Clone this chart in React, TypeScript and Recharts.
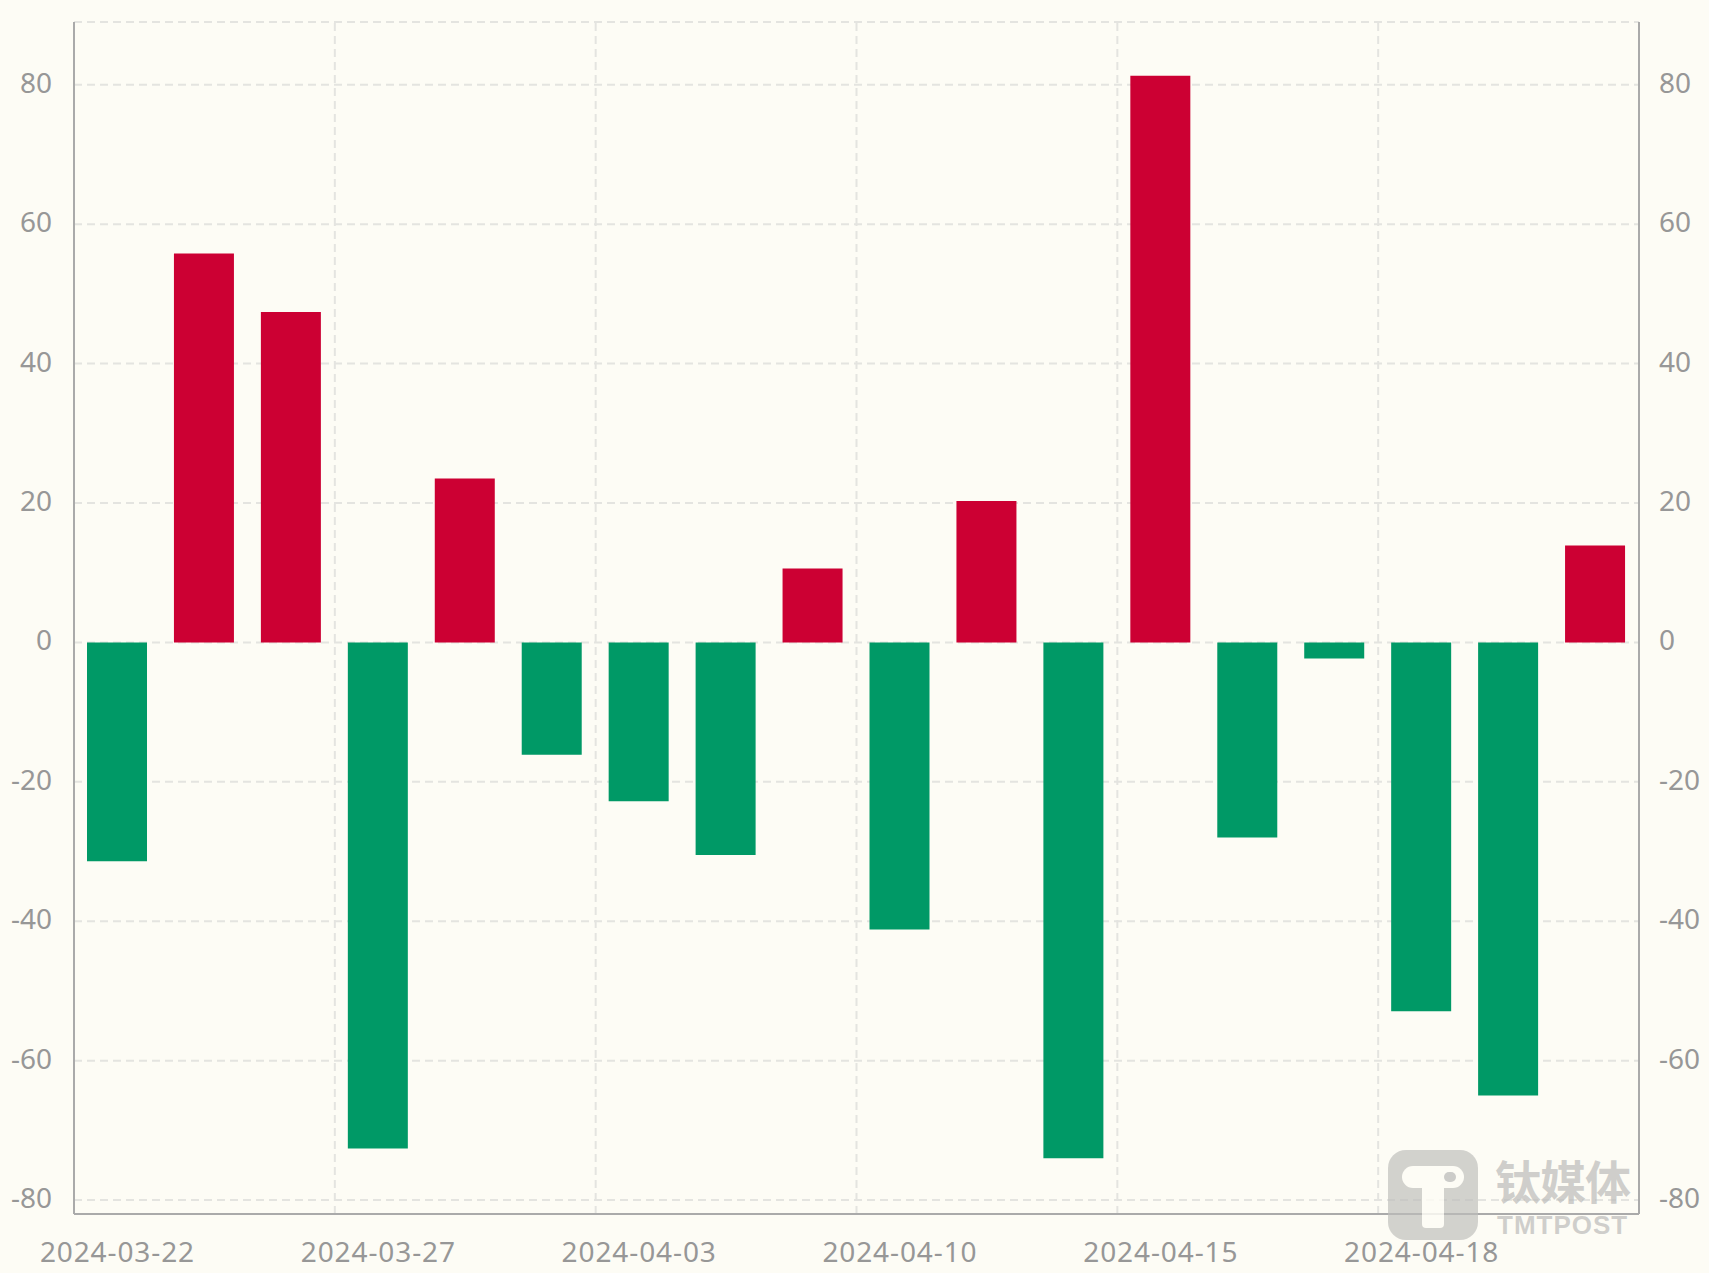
import { BarChart, Bar, Cell, XAxis, YAxis, CartesianGrid, ReferenceLine } from 'recharts';

const dates = [
  '2024-03-22', '2024-03-25', '2024-03-26', '2024-03-27', '2024-03-28', '2024-04-01',
  '2024-04-03', '2024-04-08', '2024-04-09', '2024-04-10', '2024-04-11', '2024-04-12',
  '2024-04-15', '2024-04-16', '2024-04-17', '2024-04-18', '2024-04-19', '2024-04-22',
];
const netFlow = [
  -31.4, 55.8, 47.4, -72.6, 23.5, -16.1, -22.8, -30.5, 10.6,
  -41.2, 20.3, -74.0, 81.3, -28.0, -2.3, -52.9, -65.0, 13.9,
];
const yTicks = [-80, -60, -40, -20, 0, 20, 40, 60, 80];
const LABEL_STEP = 3;

const UP = '#cc0033';
const DOWN = '#009966';
const AXIS = '#aaaaaa';
const GRID = '#e4e4e0';
const TEXT = '#979797';
const FONT = '"Noto Sans", "Open Sans", sans-serif';

const data = dates.map((d, i) => ({ date: d, value: netFlow[i] }));
// vertical grid lines sit on the left edge of every labelled category
const boundaries = dates.filter((_, i) => i > 0 && i % LABEL_STEP === 0);

const tickStyle = { fill: TEXT, fontSize: 28, fontFamily: FONT };

function Watermark() {
  return (
    <div style={{ position: 'absolute', left: 1388, top: 1150, display: 'flex', alignItems: 'flex-start', opacity: 0.85, pointerEvents: 'none' }}>
      <div style={{ width: 90, height: 90, borderRadius: 18, background: 'rgba(190,190,188,0.8)', position: 'relative' }}>
        <div style={{ position: 'absolute', left: 14, top: 16, width: 62, height: 22, borderRadius: 11, background: '#fdfcf5' }} />
        <div style={{ position: 'absolute', left: 34, top: 30, width: 22, height: 48, borderRadius: 4, background: '#fdfcf5' }} />
        <div style={{ position: 'absolute', left: 56, top: 22, width: 12, height: 10, borderRadius: 5, background: 'rgba(190,190,188,0.9)' }} />
      </div>
      <div style={{ marginLeft: 17, position: 'relative', width: 144, height: 90, fontFamily: '"Noto Sans CJK SC", sans-serif', color: 'rgba(190,190,188,0.85)' }}>
        <div style={{ position: 'absolute', left: 0, top: 6, fontSize: 46, fontWeight: 700, lineHeight: '46px', letterSpacing: -1 }}>钛媒体</div>
        <div style={{ position: 'absolute', left: 2, top: 63, fontSize: 26, fontWeight: 700, lineHeight: '24px', fontFamily: '"Liberation Sans", sans-serif', letterSpacing: 1 }}>TMTPOST</div>
      </div>
    </div>
  );
}

export default function App() {
  return (
    <div style={{ position: 'absolute', left: 0, top: 0, width: 1709, height: 1273, background: '#fdfcf5' }}>
      <BarChart
        width={1709}
        height={1273}
        data={data}
        margin={{ top: 22, right: 0, left: 0, bottom: 0 }}
        style={{ fontFamily: FONT }}
      >
        <CartesianGrid yAxisId="left" vertical={false} stroke={GRID} strokeWidth={2} strokeDasharray="8 5" />
        <XAxis
          dataKey="date"
          interval={LABEL_STEP - 1}
          height={59}
          tickLine={false}
          tickSize={0}
          tickMargin={28}
          axisLine={{ stroke: AXIS, strokeWidth: 2 }}
          tick={{ ...tickStyle, letterSpacing: 0.9 }}
        />
        <YAxis
          yAxisId="left"
          width={74}
          domain={[-82, 89]}
          ticks={yTicks}
          allowDataOverflow
          tickLine={false}
          tickSize={0}
          tickMargin={22}
          axisLine={{ stroke: AXIS, strokeWidth: 2 }}
          tick={{ ...tickStyle, dy: -2 }}
        />
        <YAxis
          yAxisId="right"
          orientation="right"
          width={70}
          domain={[-82, 89]}
          ticks={yTicks}
          allowDataOverflow
          tickLine={false}
          tickSize={0}
          tickMargin={20}
          axisLine={{ stroke: AXIS, strokeWidth: 2 }}
          tick={{ ...tickStyle, dy: -2 }}
        />
        {boundaries.map((d) => (
          <ReferenceLine
            key={d}
            x={d}
            position="start"
            yAxisId="left"
            stroke={GRID}
            strokeWidth={2}
            strokeDasharray="8 5"
          />
        ))}
        <Bar dataKey="value" yAxisId="left" barSize={60} isAnimationActive={false}>
          {data.map((d) => (
            <Cell key={d.date} fill={d.value >= 0 ? UP : DOWN} />
          ))}
        </Bar>
      </BarChart>
      <Watermark />
    </div>
  );
}
